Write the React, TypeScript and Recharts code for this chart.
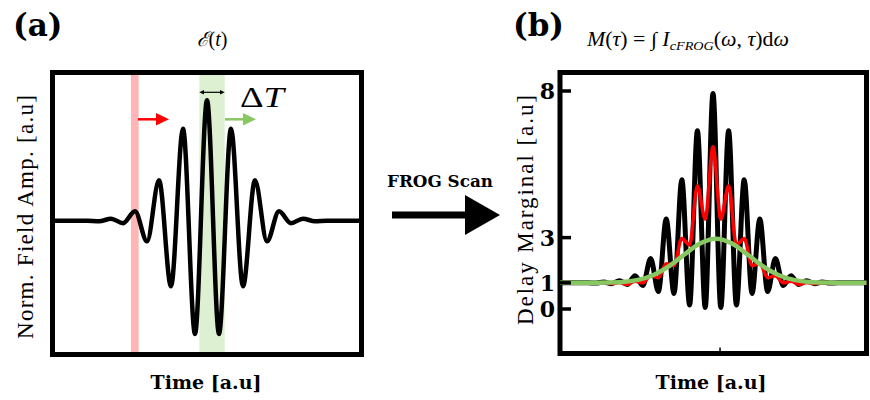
import React from 'react';
import { LineChart, Line, XAxis, YAxis, ReferenceArea } from 'recharts';

// ---------- Panel (a): normalised field amplitude vs time (time in carrier periods) ----------
const FIELD_T = [-6.6, -5.5, -5, -4.5, -4, -3.5, -3, -2.5, -2, -1.5, -1, -0.5, 0, 0.5, 1, 1.5, 2, 2.5, 3, 3.5, 4, 4.5, 5, 5.5, 6.6];
const FIELD_AMP = [0, 0, 0, -0.005, 0.017, -0.02, 0.078, -0.171, 0.336, -0.545, 0.764, -0.94, 1, -0.94, 0.764, -0.545, 0.336, -0.171, 0.078, -0.02, 0.017, -0.005, 0, 0, 0];
const A_TICKS = [0];
const A_XDOM = [-6.44, 6.44];
const A_YDOM = [-1.111, 1.231];

// ---------- Panel (b): delay marginals (delay in fringe periods) ----------
const TAU_B = [-9.9, -8.5, -8, -7.5, -7, -6.5, -6, -5.5, -5, -4.5, -4, -3.5, -3, -2.5, -2, -1.5, -1, -0.5, 0, 0.5, 1, 1.5, 2, 2.5, 3, 3.5, 4, 4.5, 5, 5.5, 6, 6.5, 7, 7.5, 8, 8.5, 9.9];
const MARGINAL_FULL = [0.96, 0.96, 0.96, 0.95, 0.99, 0.93, 1.04, 0.9, 1.22, 0.86, 1.85, 0.64, 3.3, 0.57, 4.74, 0.15, 6.54, 0.055, 7.91, 0.055, 6.54, 0.15, 4.74, 0.57, 3.3, 0.64, 1.85, 0.86, 1.22, 0.9, 1.04, 0.93, 0.99, 0.95, 0.96, 0.96, 0.96];
const MARGINAL_PART = [0.96, 0.96, 0.96, 0.95, 0.97, 0.93, 0.97, 0.9, 1.02, 0.96, 1.22, 1.15, 1.66, 1.6, 2.59, 2.35, 4.52, 3.3, 5.95, 3.3, 4.52, 2.35, 2.59, 1.6, 1.66, 1.15, 1.22, 0.96, 1.02, 0.9, 0.97, 0.93, 0.97, 0.95, 0.96, 0.96, 0.96];
const TAU_G = [-9.9, -7.81, -6.81, -5.81, -4.81, -3.81, -2.81, -1.81, -0.81, 0.19, 1.19, 2.19, 3.19, 4.19, 5.19, 6.19, 7.19, 8.19, 9.9];
const MARGINAL_INT = [0.96, 0.96, 0.97, 0.99, 1.07, 1.25, 1.57, 2.01, 2.41, 2.58, 2.41, 2.01, 1.57, 1.25, 1.07, 0.99, 0.97, 0.96, 0.96];
const B_TICKS = [0, 0.96, 2.62, 8];
const B_TICK_LABELS = ['0', '1', '3', '8'];
const B_XTICKS = [-0.58, 0.45];
const B_XDOM = [-9.81, 9.84];
const B_YDOM = [-1.633, 8.679];

const fieldData = FIELD_T.map((t, i) => ({ t, v: FIELD_AMP[i] }));
const fullData = TAU_B.map((t, i) => ({ t, v: MARGINAL_FULL[i] }));
const partData = TAU_B.map((t, i) => ({ t, v: MARGINAL_PART[i] }));
const intData = TAU_G.map((t, i) => ({ t, v: MARGINAL_INT[i] }));

const GREEN = '#88c862';
const BOLD = 'DejaVu Serif';
const ROMAN = 'Liberation Serif, DejaVu Serif';

const ATick = (props: any) => {
  const { x, y } = props;
  return <line x1={x} x2={x + 7} y1={y} y2={y} stroke="#000" strokeWidth={3} />;
};

const BTick = (props: any) => {
  const { x, y, payload } = props;
  const idx = B_TICKS.indexOf(payload.value);
  return (
    <g>
      <line x1={x} x2={x + 11} y1={y} y2={y} stroke="#000" strokeWidth={3.5} />
      <text x={x - 5} y={y + 8} textAnchor="end" fontFamily={BOLD} fontWeight="bold" fontSize={22} fill="#000">
        {B_TICK_LABELS[idx]}
      </text>
    </g>
  );
};

const BXTick = (props: any) => {
  const { x, y } = props;
  return <line x1={x} x2={x} y1={y} y2={y - 6} stroke="#000" strokeWidth={1.5} />;
};

export default function App() {
  return (
    <div style={{ position: 'absolute', left: 0, top: 0, width: 870, height: 400, background: '#fff', overflow: 'hidden' }}>
      <div style={{ position: 'absolute', left: 0, top: 0 }}>
        <LineChart width={380} height={400} margin={{ top: 72.5, right: 18.5, bottom: 5.5, left: 12.5 }}>
          <XAxis type="number" dataKey="t" domain={A_XDOM} allowDataOverflow height={40} axisLine={false} tickLine={false} ticks={[]} tick={false} />
          <YAxis type="number" domain={A_YDOM} allowDataOverflow width={40} axisLine={false} tickLine={false} tickSize={0} tickMargin={0} ticks={A_TICKS} tick={<ATick />} />
          <ReferenceArea x1={-3.17} x2={-2.85} y1={A_YDOM[0]} y2={A_YDOM[1]} fill="#ffb5b5" fillOpacity={1} stroke="none" ifOverflow="visible" />
          <ReferenceArea x1={-0.32} x2={0.74} y1={A_YDOM[0]} y2={A_YDOM[1]} fill="#ddf1d2" fillOpacity={1} stroke="none" ifOverflow="visible" />
          <Line data={fieldData} dataKey="v" type="monotone" stroke="#000" strokeWidth={4.5} dot={false} activeDot={false} isAnimationActive={false} />
          <ReferenceArea x1={A_XDOM[0]} x2={A_XDOM[1]} y1={A_YDOM[0]} y2={A_YDOM[1]} fill="none" fillOpacity={0} stroke="#000" strokeWidth={5} ifOverflow="visible" />
        </LineChart>
      </div>
      <div style={{ position: 'absolute', left: 500, top: 0 }}>
        <LineChart width={370} height={400} margin={{ top: 72.5, right: 3.5, bottom: 6.5, left: 20 }}>
          <XAxis type="number" dataKey="t" domain={B_XDOM} allowDataOverflow height={40} axisLine={false} tickLine={false} tickSize={0} tickMargin={0} ticks={B_XTICKS} tick={<BXTick />} />
          <YAxis type="number" domain={B_YDOM} allowDataOverflow width={40} axisLine={false} tickLine={false} tickSize={0} tickMargin={0} ticks={B_TICKS} tick={<BTick />} />
          <Line data={fullData} dataKey="v" type="monotone" stroke="#000" strokeWidth={5} dot={false} activeDot={false} isAnimationActive={false} />
          <Line data={partData} dataKey="v" type="monotone" stroke="#ff0000" strokeWidth={3.5} dot={false} activeDot={false} isAnimationActive={false} />
          <Line data={intData} dataKey="v" type="monotone" stroke={GREEN} strokeWidth={4.5} dot={false} activeDot={false} isAnimationActive={false} />
          <ReferenceArea x1={B_XDOM[0]} x2={B_XDOM[1]} y1={B_YDOM[0]} y2={B_YDOM[1]} fill="none" fillOpacity={0} stroke="#000" strokeWidth={5} ifOverflow="visible" />
        </LineChart>
      </div>
      <svg width={870} height={400} style={{ position: 'absolute', left: 0, top: 0, pointerEvents: 'none' }}>
        {/* panel letters */}
        <text x={13} y={36} fontFamily={BOLD} fontWeight="bold" fontSize={31} fill="#000">(a)</text>
        <text x={513} y={36} fontFamily={BOLD} fontWeight="bold" fontSize={31} fill="#000">(b)</text>
        {/* titles */}
        <text x={212} y={46} textAnchor="middle" fontFamily={ROMAN} fontSize={20} fill="#000">
          <tspan fontStyle="italic">ℰ</tspan>(<tspan fontStyle="italic">t</tspan>)
        </text>
        <text x={587} y={46} fontFamily={ROMAN} fontSize={20} fill="#000" textLength={202} lengthAdjust="spacingAndGlyphs">
          <tspan fontStyle="italic">M</tspan>(<tspan fontStyle="italic">τ</tspan>) = ∫ <tspan fontStyle="italic">I</tspan>
          <tspan fontStyle="italic" fontSize={13} dy={4}>cFROG</tspan>
          <tspan dy={-4}>(</tspan><tspan fontStyle="italic">ω</tspan>, <tspan fontStyle="italic">τ</tspan>)d<tspan fontStyle="italic">ω</tspan>
        </text>
        {/* axis labels */}
        <text transform="translate(33,217) rotate(-90)" textAnchor="middle" fontFamily={ROMAN} fontSize={23} fill="#000" textLength={244} lengthAdjust="spacing">Norm.  Field  Amp.  [a.u]</text>
        <text transform="translate(533,210) rotate(-90)" textAnchor="middle" fontFamily={ROMAN} fontSize={23} fill="#000" textLength={230} lengthAdjust="spacing">Delay  Marginal  [a.u]</text>
        <text x={206} y={389} textAnchor="middle" fontFamily={BOLD} fontWeight="bold" fontSize={19} fill="#000">Time [a.u]</text>
        <text x={711} y={389} textAnchor="middle" fontFamily={BOLD} fontWeight="bold" fontSize={19} fill="#000">Time [a.u]</text>
        {/* FROG scan arrow */}
        <text x={387} y={187} fontFamily={BOLD} fontWeight="bold" fontSize={17} fill="#000" textLength={106} lengthAdjust="spacingAndGlyphs">FROG Scan</text>
        <line x1={392} x2={468} y1={215} y2={215} stroke="#000" strokeWidth={7} />
        <polygon points="465,195 500,215 465,235" fill="#000" />
        {/* delay arrows in panel (a) */}
        <line x1={138} x2={158} y1={119.3} y2={119.3} stroke="#ff0000" strokeWidth={2.5} />
        <polygon points="156,113 169,119.3 156,125.6" fill="#ff0000" />
        <line x1={225} x2={245} y1={119.3} y2={119.3} stroke={GREEN} strokeWidth={2.5} />
        <polygon points="243,113 256,119.3 243,125.6" fill={GREEN} />
        <line x1={202} x2={222} y1={92.3} y2={92.3} stroke="#000" strokeWidth={1.2} />
        <polygon points="199.3,92.3 204,90 204,94.6" fill="#000" />
        <polygon points="224.7,92.3 220,90 220,94.6" fill="#000" />
        <text x={240} y={107} fontFamily={ROMAN} fontSize={30} fill="#000" textLength={44} lengthAdjust="spacingAndGlyphs">Δ<tspan fontStyle="italic">T</tspan></text>
      </svg>
    </div>
  );
}
